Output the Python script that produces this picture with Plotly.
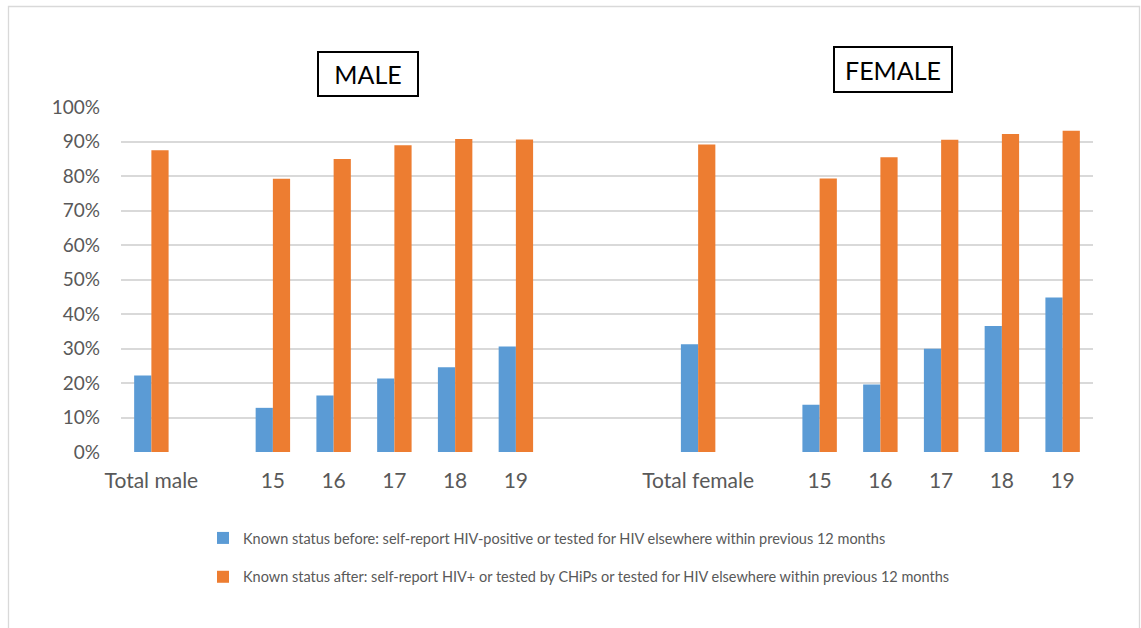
import plotly.graph_objects as go

# Category slots along the x axis (blank slots separate the male and female groups)
categories = ["Total male", "", "15", "16", "17", "18", "19", "", "",
              "Total female", "", "15", "16", "17", "18", "19"]

# Share with known HIV status (%), None for the empty spacer slots
known_before = [22.2, None, 12.8, 16.4, 21.3, 24.6, 30.6, None, None,
                31.2, None, 13.7, 19.6, 29.9, 36.5, 44.8]
known_after = [87.5, None, 79.2, 84.9, 88.9, 90.7, 90.6, None, None,
               89.1, None, 79.3, 85.4, 90.5, 92.2, 93.1]

series_names = [
    "Known status before: self-report HIV-positive or tested for HIV elsewhere within previous 12 months",
    "Known status after: self-report HIV+ or tested by CHiPs or tested for HIV elsewhere within previous 12 months",
]
series_colors = ["#5B9BD5", "#ED7D31"]
panel_titles = ["MALE", "FEMALE"]

W, H = 1141, 628
M_L, M_R, M_T, M_B = 121, 48, 107, 176
PW, PH = W - M_L - M_R, H - M_T - M_B


def px_x(px):
    return (px - M_L) / PW


def px_y(py):
    return (H - M_B - py) / PH


FONT = "Lato, 'Open Sans', sans-serif"
GREY = "#595959"

positions = list(range(len(categories)))

fig = go.Figure()
for name, vals, col, grp in zip(series_names, [known_before, known_after],
                                series_colors, ["a", "b"]):
    fig.add_trace(go.Bar(
        x=positions, y=vals, name=name, marker_color=col,
        marker_line_width=0, legendgroup=grp,
    ))

fig.update_layout(
    width=W, height=H,
    margin=dict(l=M_L, r=M_R, t=M_T, b=M_B),
    paper_bgcolor="white", plot_bgcolor="white",
    barmode="group", bargap=0.433, bargroupgap=0,
    font=dict(family=FONT, color=GREY),
    showlegend=True,
    legend=dict(
        x=px_x(203), xanchor="left",
        y=px_y(522), yanchor="top",
        orientation="v", tracegroupgap=17,
        font=dict(size=14.5, color=GREY, family=FONT),
        bgcolor="rgba(0,0,0,0)",
    ),
    xaxis=dict(
        tickmode="array", tickvals=positions, ticktext=categories,
        range=[-0.5, len(categories) - 0.5],
        showgrid=False, zeroline=False, showline=False, ticks="",
        tickfont=dict(size=21, color=GREY, family=FONT),
        ticklabelstandoff=14,
    ),
    yaxis=dict(
        range=[0, 100], tickvals=list(range(0, 101, 10)),
        ticktext=[f"{v}%" for v in range(0, 101, 10)],
        showgrid=True, gridcolor="#D9D9D9", gridwidth=1.6,
        zeroline=False, showline=False, ticks="",
        tickfont=dict(size=19, color=GREY, family=FONT),
        ticklabelstandoff=20,
    ),
)

# Outer chart-area frame
fig.add_shape(
    type="rect", xref="paper", yref="paper",
    x0=px_x(8.5), x1=px_x(1139.5), y0=px_y(660), y1=px_y(6.5),
    line=dict(color="#D9D9D9", width=1.3), fillcolor="rgba(0,0,0,0)",
    layer="below",
)

# Boxed panel headings
for title, cx, cy, bw, bh in [
    (panel_titles[0], 368, 74, 98, 42),
    (panel_titles[1], 893, 69.5, 116, 43),
]:
    fig.add_annotation(
        text=title, xref="paper", yref="paper",
        x=px_x(cx), y=px_y(cy), xanchor="center", yanchor="middle",
        showarrow=False, width=bw, height=bh, align="center", valign="middle",
        bordercolor="black", borderwidth=2, borderpad=0, bgcolor="white",
        font=dict(size=25, color="black", family=FONT),
    )

fig.write_html("out.html")
